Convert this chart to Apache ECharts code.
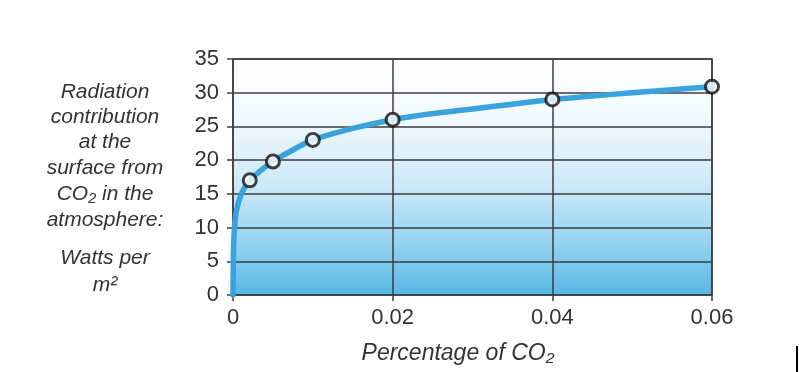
<!DOCTYPE html>
<html>
<head>
<meta charset="utf-8">
<script src="https://cdn.jsdelivr.net/npm/echarts@6/dist/echarts.min.js"></script>
<style>html,body{margin:0;padding:0;background:#fff;}#c{width:799px;height:372px;}</style>
</head>
<body>
<div id="c"></div>
<script>
// Measured points (percentage of CO2, W/m^2)
const pointX = [0.0021, 0.005, 0.01, 0.02, 0.04, 0.06];
const pointY = [17, 19.8, 23, 26, 29, 30.9];
// Curve
const curveX = [0, 0.00003, 0.0001, 0.0003, 0.0007, 0.0013, 0.0021, 0.003, 0.005, 0.0075, 0.01, 0.015, 0.02, 0.025, 0.03, 0.035, 0.04, 0.045, 0.05, 0.055, 0.06];
const curveY = [0, 4, 8, 11.5, 13.8, 15.6, 17, 18, 19.8, 21.5, 23, 24.7, 26, 26.9, 27.6, 28.3, 29, 29.5, 30, 30.45, 30.9];
const yTicks = [0, 5, 10, 15, 20, 25, 30, 35];
const xTicks = [0, 0.02, 0.04, 0.06];
const yTitleLines = ['Radiation', 'contribution', 'at the', 'surface from', 'CO₂ in the', 'atmosphere:', 'Watts per', 'm²'];
const yTitleRows = [92, 117, 142, 168, 194, 220, 258, 285];
const xTitle = 'Percentage of CO₂';

const chart = echarts.init(document.getElementById('c'), null, {renderer: 'canvas'});
const font = '"Liberation Sans", Arial, sans-serif';
const grid = {left: 233, top: 59, right: 87, bottom: 77};

const graphics = yTitleLines.map((t, i) => ({
  type: 'text', x: 105, y: yTitleRows[i],
  style: {text: t, fill: '#333', font: 'italic 21px ' + font, textAlign: 'center', textVerticalAlign: 'middle'}
}));
graphics.push({
  type: 'text', x: 458, y: 354,
  style: {text: xTitle, fill: '#333', font: 'italic 23px ' + font, textAlign: 'center', textVerticalAlign: 'middle'}
});
graphics.push({type: 'rect', shape: {x: 796, y: 346, width: 2, height: 26}, style: {fill: '#000'}});

chart.setOption({
  animation: false,
  grid: Object.assign({
    show: true, borderColor: '#3c3c3c', borderWidth: 1.5,
    backgroundColor: new echarts.graphic.LinearGradient(0, 0, 0, 1, [
      {offset: 0, color: '#ffffff'},
      {offset: 0.25, color: '#f2f9fd'},
      {offset: 0.55, color: '#c9e8f7'},
      {offset: 0.8, color: '#8fd0ef'},
      {offset: 1, color: '#55b8e6'}
    ])
  }, grid),
  xAxis: {
    type: 'value', min: xTicks[0], max: xTicks[xTicks.length - 1], interval: 0.02,
    axisLine: {show: false},
    axisTick: {show: true, length: 6, lineStyle: {color: '#3c3c3c', width: 1.5}},
    splitLine: {show: true, lineStyle: {color: '#3c3c3c', width: 1.5}},
    axisLabel: {
      margin: 12, color: '#333', fontSize: 22, fontFamily: font,
      formatter: v => v === 0 ? '0' : v.toFixed(2)
    }
  },
  yAxis: {
    type: 'value', min: yTicks[0], max: yTicks[yTicks.length - 1], interval: 5,
    axisLine: {show: false},
    axisTick: {show: true, length: 6, lineStyle: {color: '#3c3c3c', width: 1.5}},
    splitLine: {show: true, lineStyle: {color: '#3c3c3c', width: 1.5}},
    axisLabel: {margin: 14, color: '#333', fontSize: 22, fontFamily: font}
  },
  graphic: graphics,
  series: [
    {
      type: 'line', data: curveX.map((x, i) => [x, curveY[i]]),
      smooth: 0.35, showSymbol: false, symbol: 'none',
      lineStyle: {color: '#3aa2dc', width: 5.5, cap: 'round', join: 'round'}, z: 3
    },
    {
      type: 'scatter', data: pointX.map((x, i) => [x, pointY[i]]),
      symbol: 'circle', symbolSize: 13,
      itemStyle: {color: '#ffffff', borderColor: '#111', borderWidth: 3}, z: 5
    }
  ]
});
</script>
</body>
</html>
